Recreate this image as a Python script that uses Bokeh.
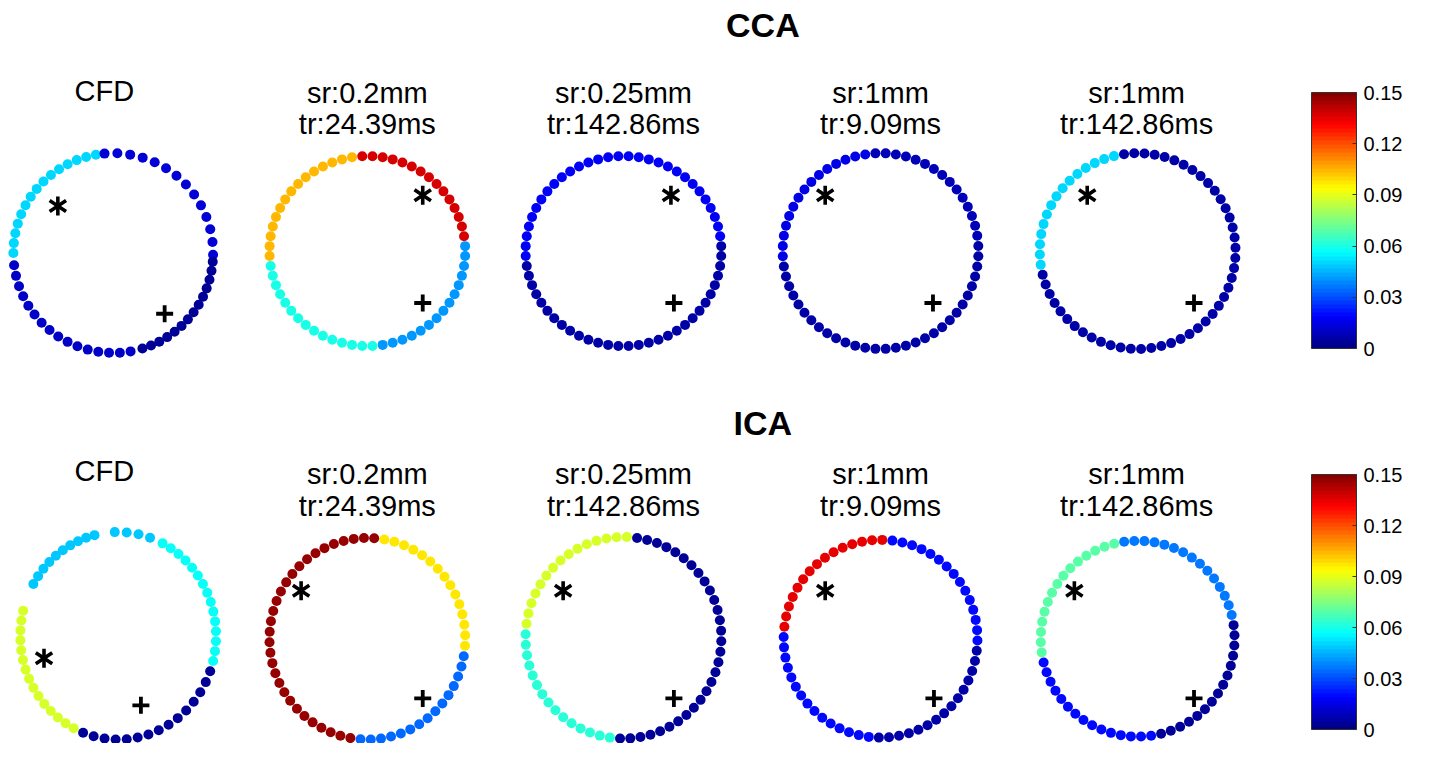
import numpy as np
from bokeh.plotting import figure
from bokeh.models import Range1d, LinearColorMapper, ColorBar, FixedTicker, ColumnDataSource
from bokeh.core.properties import value
from bokeh.embed import file_html
from bokeh.resources import INLINE

# ---------------- data ----------------
row_names = ["CCA", "ICA"]
titles_line1 = ["CFD", "sr:0.2mm", "sr:0.25mm", "sr:1mm", "sr:1mm"]
titles_line2 = ["", "tr:24.39ms", "tr:142.86ms", "tr:9.09ms", "tr:142.86ms"]

# WSS per quadrant (upper-right, lower-right, lower-left, upper-left), MRI settings
cca_mri_wss = [
    [0.138, 0.041, 0.060, 0.104],
    [0.017, 0.005, 0.007, 0.017],
    [0.008, 0.005, 0.005, 0.016],
    [0.006, 0.005, 0.006, 0.050],
]
ica_mri_wss = [
    [0.097, 0.034, 0.146, 0.146],
    [0.004, 0.004, 0.062, 0.088],
    [0.019, 0.006, 0.019, 0.135],
    [0.037, 0.004, 0.020, 0.068],
]
mri_points_per_quadrant = 15

# CFD reference: contour segments (start angle, end angle [deg clockwise from top], points, WSS)
cca_cfd_seg_start = [270, 355, 95, 170]
cca_cfd_seg_end = [350, 451, 163, 263]
cca_cfd_seg_n = [15, 14, 14, 16]
cca_cfd_wss = [0.050, 0.014, 0.004, 0.010]

ica_cfd_seg_start = [300, 358, 27, 110, 207]
ica_cfd_seg_end = [346, 379, 104, 201, 284]
ica_cfd_seg_n = [10, 4, 15, 15, 15]
ica_cfd_wss = [0.047, 0.047, 0.058, 0.004, 0.089]

cb_ticks = [0, 0.03, 0.06, 0.09, 0.12, 0.15]
cb_low, cb_high = 0.0, 0.15

# ---------------- layout (positions in reference-image pixels) ----------------
REF_W, REF_H = 1432, 759
cca_cx = [114, 371, 630, 890, 1150]
cca_cy = [258, 256, 256, 256, 256]
cca_rx = [101, 99, 99, 99, 99]
cca_ry = [102, 97, 97, 100, 100]
cca_start = [357, 357, 357, 352]
ica_cx = [119, 371, 630, 890, 1150]
ica_cy = [649, 652, 651, 652, 652]
ica_rx = [99, 99, 99, 98, 98]
ica_ry = [106, 103, 103, 101, 100]
ica_start = [10, 8, 7, 352]

cca_star = [(58, 210), (427, 199), (678, 199), (834, 199), (1099, 199)]
cca_plus = [(166, 320), (427, 309), (681, 309), (943, 309), (1207, 309)]
ica_star = [(44, 672), (304, 603), (569, 603), (834, 603), (1086, 603)]
ica_plus = [(142, 720), (427, 713), (681, 713), (944, 713), (1207, 713)]

title_x = [105, 371, 630, 890, 1149]
row_title_y = [25, 432]
line1_y = [[92, 94, 94, 94, 94], [481, 484, 484, 484, 484]]
line2_y = [126, 516]
cbar_left, cbar_right = 1326, 1372
cbar_top_bottom = [(93, 355), (484, 745)]


def Y(yref):
    return REF_H - yref


def jet(n):
    cols = []
    for i in range(n):
        t = (i + 0.5) / n
        r = np.clip(1.5 - abs(4 * t - 3), 0, 1)
        g = np.clip(1.5 - abs(4 * t - 2), 0, 1)
        b = np.clip(1.5 - abs(4 * t - 1), 0, 1)
        cols.append("#%02x%02x%02x" % (int(round(r * 255)), int(round(g * 255)), int(round(b * 255))))
    return cols


palette = jet(64)
mapper = LinearColorMapper(palette=palette, low=cb_low, high=cb_high)

W, H = 1416, 743
SX, SY = W / REF_W, H / REF_H
p = figure(width=W, height=H, x_range=Range1d(0, REF_W), y_range=Range1d(0, REF_H),
           output_backend="svg", toolbar_location=None, min_border=0)
p.axis.visible = False
p.grid.visible = False
p.outline_line_color = None
p.background_fill_color = "white"
p.border_fill_color = "white"

FONT = value("Liberation Sans")

xs, ys, vs = [], [], []


def add_ring(cx, cy, rx, ry, angles, vals):
    th = np.radians(np.asarray(angles, dtype=float))
    xs.extend(list(cx + rx * np.sin(th)))
    ys.extend(list(Y(cy) + ry * np.cos(th)))
    vs.extend(list(vals))


def cfd_ring(cx, cy, rx, ry, s0, s1, n, w):
    angs, vals = [], []
    for a, b, k, v in zip(s0, s1, n, w):
        angs.extend(list(np.linspace(a, b, k)))
        vals.extend([v] * k)
    add_ring(cx, cy, rx, ry, angs, vals)


def mri_ring(cx, cy, rx, ry, start, quad_vals):
    n = mri_points_per_quadrant
    step = 360.0 / (4 * n)
    angs = [start + step * i for i in range(4 * n)]
    vals = [quad_vals[i // n] for i in range(4 * n)]
    add_ring(cx, cy, rx, ry, angs, vals)


cfd_ring(cca_cx[0], cca_cy[0], cca_rx[0], cca_ry[0], cca_cfd_seg_start, cca_cfd_seg_end, cca_cfd_seg_n, cca_cfd_wss)
cfd_ring(ica_cx[0], ica_cy[0], ica_rx[0], ica_ry[0], ica_cfd_seg_start, ica_cfd_seg_end, ica_cfd_seg_n, ica_cfd_wss)
for i in range(4):
    mri_ring(cca_cx[i + 1], cca_cy[i + 1], cca_rx[i + 1], cca_ry[i + 1], cca_start[i], cca_mri_wss[i])
    mri_ring(ica_cx[i + 1], ica_cy[i + 1], ica_rx[i + 1], ica_ry[i + 1], ica_start[i], ica_mri_wss[i])

src = ColumnDataSource(dict(x=xs, y=ys, v=vs))
p.scatter("x", "y", source=src, size=10, marker="circle",
          fill_color={"field": "v", "transform": mapper}, line_color=None)

# markers (* and +)
stars = cca_star + ica_star
pluses = cca_plus + ica_plus
sx = [s[0] for s in stars]
sy = [Y(s[1]) for s in stars]
p.scatter(sx, sy, marker="y", size=19, line_width=3.6, line_color="black")
p.scatter(sx, sy, marker="y", size=19, angle=np.pi, line_width=3.6, line_color="black")
p.scatter([q[0] for q in pluses], [Y(q[1]) for q in pluses], marker="cross", size=17,
          line_width=3.8, line_color="black")

# titles
p.text(x=[771, 771], y=[Y(v) for v in row_title_y], text=row_names, text_font=FONT, text_font_style="bold",
       text_font_size="34px", text_align="center", text_baseline="middle", text_color="black")

p.text(x=title_x + title_x, y=[Y(v) for v in line1_y[0] + line1_y[1]], text=titles_line1 + titles_line1,
       text_font=FONT, text_font_size="29px", text_align="center", text_baseline="middle",
       text_color="black")
p.text(x=title_x[1:] + title_x[1:], y=[Y(line2_y[0])] * 4 + [Y(line2_y[1])] * 4,
       text=titles_line2[1:] + titles_line2[1:],
       text_font=FONT, text_font_size="29px", text_align="center", text_baseline="middle",
       text_color="black")

# colour bars (screen-pixel placement)
for top, bottom in cbar_top_bottom:
    cb = ColorBar(color_mapper=mapper, ticker=FixedTicker(ticks=cb_ticks, minor_ticks=[]),
                  major_label_overrides={0: "0"},
                  location=(round(cbar_left * SX), round(H - bottom * SY)),
                  width=round((cbar_right - cbar_left) * SX), height=round((bottom - top) * SY),
                  padding=0, margin=0,
                  bar_line_color="#333333", border_line_color=None, background_fill_alpha=0,
                  major_tick_in=4, major_tick_out=0, major_tick_line_color="#333333",
                  label_standoff=7, major_label_text_font="Liberation Sans",
                  major_label_text_font_size="20px", major_label_text_color="black")
    p.add_layout(cb)

open("out.html", "w").write(file_html(p, INLINE))
